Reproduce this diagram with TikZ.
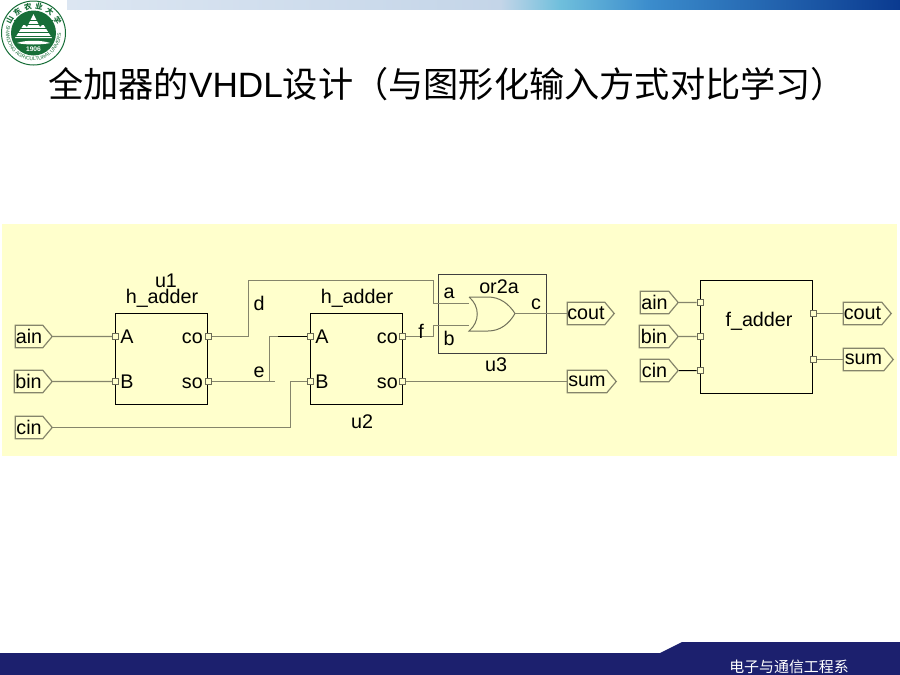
\documentclass[tikz,border=0pt]{standalone}
\usepackage{fontspec}
\setmainfont{Liberation Sans}
\newfontfamily\cjkfont{Noto Sans CJK SC}
\usetikzlibrary{shapes.symbols,decorations.text}
\newlength{\du}
\setlength{\du}{0.75pt}
\definecolor{panelcolor}{rgb}{1.000000, 1.000000, 0.800000}
\definecolor{wirecolor}{rgb}{0.520000, 0.520000, 0.420000}
\definecolor{navycolor}{rgb}{0.110000, 0.125000, 0.430000}
\definecolor{sealcolor}{rgb}{0.090000, 0.430000, 0.220000}
\definecolor{bandone}{HTML}{DCE6F2}
\definecolor{bandtwo}{HTML}{C4D5E8}
\definecolor{bandthree}{HTML}{6FBFDC}
\definecolor{bandfour}{HTML}{3B8CCC}
\definecolor{bandfive}{HTML}{0A3A90}
\tikzset{
  wire/.style={draw=wirecolor,line width=1.4\du},
  blackwire/.style={draw=black,line width=1\du},
  blockbox/.style={draw=black,line width=1\du,inner sep=0pt},
  port/.style={draw=wirecolor!80!black,fill=panelcolor,line width=1\du,minimum size=6\du,inner sep=0pt},
  pin/.style={shape=signal,signal to=east,signal from=nowhere,signal pointer angle=100,
    draw=wirecolor,fill=panelcolor,line width=1.2\du,inner sep=0pt,minimum height=22.5\du,
    anchor=east,font=\fontsize{14.8pt}{14.8pt}\selectfont},
  lbl/.style={inner sep=0pt,font=\fontsize{14.8pt}{14.8pt}\selectfont}
}
\begin{document}
\begin{tikzpicture}
\pgftransformxscale{1.000000}
\pgftransformyscale{-1.000000}
\useasboundingbox (0\du,0\du) rectangle (900\du,675\du);
\fill[white] (0\du,0\du) rectangle (900\du,675\du);
% top band
\shade[left color=bandone,right color=bandtwo] (67\du,0\du) rectangle (500\du,9\du);
\shade[left color=bandtwo,right color=bandthree] (500\du,0\du) rectangle (560\du,9\du);
\shade[left color=bandthree,right color=bandfour] (560\du,0\du) rectangle (650\du,9\du);
\shade[left color=bandfour,right color=bandfive] (650\du,0\du) rectangle (900\du,9\du);
% seal
\filldraw[draw=sealcolor,fill=white,line width=1\du] (33.5\du,33\du) circle (32\du);
\fill[sealcolor] (33.5\du,33\du) circle (22.5\du);
\fill[white] (15\du,38\du)--(24\du,24\du)--(27\du,27\du)--(33.5\du,14\du)--(40\du,27\du)--(43\du,24\du)--(52\du,38\du)--cycle;
\foreach \ya in {20,24,28,32,36}{
  \draw[sealcolor,line width=0.8\du] (14\du,\ya\du)--(53\du,\ya\du);
}
\fill[white] (17\du,43\du) .. controls (25\du,40\du) and (42\du,40\du) .. (50\du,43\du) .. controls (42\du,45\du) and (25\du,45\du) .. (17\du,43\du);
\node[text=white,inner sep=0pt,font=\bfseries\fontsize{5pt}{5pt}\selectfont] (sealyear) at (33.5\du,49.5\du){1906};
\foreach \sc/\sa in {山/-62,东/-37,农/-12,业/12,大/37,学/62}{
  \node[text=sealcolor,inner sep=0pt,rotate=-\sa,font=\cjkfont\bfseries\fontsize{5.6pt}{5.6pt}\selectfont] at ([shift={(\sa-90:27\du)}]33.5\du,33\du){\sc};
}
\begin{scope}[yscale=-1]
\path[decorate,decoration={text along path,text align=center,
  text={|\color{sealcolor}\fontsize{3.8pt}{3.8pt}\selectfont|SHANDONG AGRICULTURAL UNIVERSITY}}]
  (33.5\du,-33\du) ++(-180:27.5\du) arc[start angle=-180,end angle=0,radius=27.5\du];
\end{scope}
% title
\node[anchor=west,inner sep=0pt,font=\cjkfont\fontsize{26.4pt}{26.4pt}\selectfont] (title) at (48\du,84\du){全加器的{\rmfamily\fontsize{26.4pt}{26.4pt}\selectfont VHDL}设计（与图形化输入方式对比学习）};
% panel
\fill[panelcolor] (2\du,224\du) rectangle (897\du,456\du);
% blocks
\node[blockbox,minimum width=92\du,minimum height=91\du] (uone) at (161.5\du,358.5\du){};
\node[blockbox,minimum width=92\du,minimum height=91\du] (utwo) at (356\du,358.5\du){};
\node[blockbox,draw=black!75,minimum width=108\du,minimum height=79\du] (uthree) at (492\du,313.5\du){};
\node[blockbox,minimum width=112\du,minimum height=113\du] (fadder) at (756\du,336.5\du){};
% ports
\node[port] (uonea) at (115.5\du,336.5\du){};
\node[port] (uoneb) at (115.5\du,381.5\du){};
\node[port] (uoneco) at (208\du,336.5\du){};
\node[port] (uoneso) at (208\du,381.5\du){};
\node[port] (utwoa) at (310\du,336.5\du){};
\node[port] (utwob) at (310\du,381.5\du){};
\node[port] (utwoco) at (402.5\du,336.5\du){};
\node[port] (utwoso) at (402.5\du,381.5\du){};
\node[port] (fa) at (700\du,302.5\du){};
\node[port] (fb) at (700\du,336.5\du){};
\node[port] (fc) at (700\du,370.5\du){};
\node[port] (fcout) at (813\du,313.5\du){};
\node[port] (fsum) at (813\du,359.5\du){};
% pins
\node[pin,minimum width=37\du] (ain) at (53\du,336.5\du){ain\hspace{4\du}};
\node[pin,minimum width=38\du] (bin) at (53\du,381.5\du){bin\hspace{4\du}};
\node[pin,minimum width=37\du] (cin) at (53\du,427.5\du){cin\hspace{4\du}};
\node[pin,minimum width=47\du] (coutl) at (615\du,313.5\du){cout\hspace{4\du}};
\node[pin,minimum width=49\du] (suml) at (617\du,381.5\du){sum\hspace{4\du}};
\node[pin,minimum width=38\du] (ainr) at (679\du,302.5\du){ain\hspace{4\du}};
\node[pin,minimum width=39\du] (binr) at (679\du,336.5\du){bin\hspace{4\du}};
\node[pin,minimum width=38\du] (cinr) at (679\du,370.5\du){cin\hspace{4\du}};
\node[pin,minimum width=48\du] (coutr) at (892\du,313.5\du){cout\hspace{4\du}};
\node[pin,minimum width=50\du] (sumr) at (894\du,359.5\du){sum\hspace{4\du}};
% or gate
\coordinate (gatea) at (469\du,303.5\du);
\coordinate (gateb) at (469\du,325.5\du);
\coordinate (gateout) at (515\du,313.5\du);
\filldraw[draw=wirecolor!85!black,fill=panelcolor,line width=1\du] (469\du,297\du) -- (488\du,297\du) .. controls (500\du,297\du) and (509\du,304\du) .. (gateout) .. controls (509\du,324\du) and (500\du,331\du) .. (488\du,331\du) -- (469\du,331\du) .. controls (480\du,322\du) and (480\du,306\du) .. (469\du,297\du);
% wires
\coordinate (dup) at (248.5\du,280.5\du);
\coordinate (dtop) at (433.5\du,280.5\du);
\coordinate (eend) at (275\du,381.5\du);
\coordinate (ebranch) at (269.5\du,381.5\du);
\draw[wire] (ain) -- (uonea);
\draw[wire] (bin) -- (uoneb);
\draw[wire] (cin) -| (290.5\du,381.5\du) -- (utwob);
\draw[wire] (uoneco) -| (dup) -- (dtop) |- (gatea);
\draw[wire] (uoneso) -- (eend);
\draw[wire] (ebranch) |- (278\du,336.5\du);
\draw[blackwire] (278\du,336.5\du) -- (utwoa);
\draw[wire] (utwoco) -| (433.5\du,325.5\du) -- (gateb);
\draw[wire] (gateout) -- (coutl.west);
\draw[wire] (utwoso) -- (suml.west);
\draw[wire] (ainr) -- (fa);
\draw[wire] (binr) -- (fb);
\draw[blackwire] (cinr) -- (fc);
\draw[wire] (fcout) -- (coutr.west);
\draw[wire] (fsum) -- (sumr.west);
% texts
\node[lbl] (uonename) at (166\du,280.5\du){u1};
\node[lbl] (uonetype) at (162\du,298.5\du){h\_adder};
\node[lbl] (utwotype) at (357\du,298.5\du){h\_adder};
\node[lbl] (utwoname) at (362\du,422\du){u2};
\node[lbl] (uthreetype) at (499\du,287\du){or2a};
\node[lbl] (uthreename) at (496\du,365\du){u3};
\node[lbl,anchor=west] (lbla) at (120\du,337\du){A};
\node[lbl,anchor=west] (lblb) at (120\du,382\du){B};
\node[lbl,anchor=east] (lblco) at (203\du,338\du){co};
\node[lbl,anchor=east] (lblso) at (203\du,383\du){so};
\node[lbl,anchor=west] (lblaa) at (315\du,337\du){A};
\node[lbl,anchor=west] (lblbb) at (315\du,382\du){B};
\node[lbl,anchor=east] (lblcoo) at (398\du,338\du){co};
\node[lbl,anchor=east] (lblsoo) at (398\du,383\du){so};
\node[lbl] (lbld) at (259\du,303\du){d};
\node[lbl] (lble) at (259\du,372\du){e};
\node[lbl] (lblf) at (421\du,331\du){f};
\node[lbl] (lblga) at (449\du,293\du){a};
\node[lbl] (lblgb) at (449\du,338\du){b};
\node[lbl] (lblc) at (536\du,304\du){c};
\node[lbl] (fname) at (759\du,321\du){f\_adder};
% footer
\fill[navycolor] (0\du,653\du)--(660\du,653\du)--(682\du,642\du)--(900\du,642\du)--(900\du,675\du)--(0\du,675\du)--cycle;
\node[anchor=west,text=white,inner sep=0pt,font=\cjkfont\fontsize{11.2pt}{11.2pt}\selectfont] (dept) at (729\du,667\du){电子与通信工程系};
\end{tikzpicture}
\end{document}
